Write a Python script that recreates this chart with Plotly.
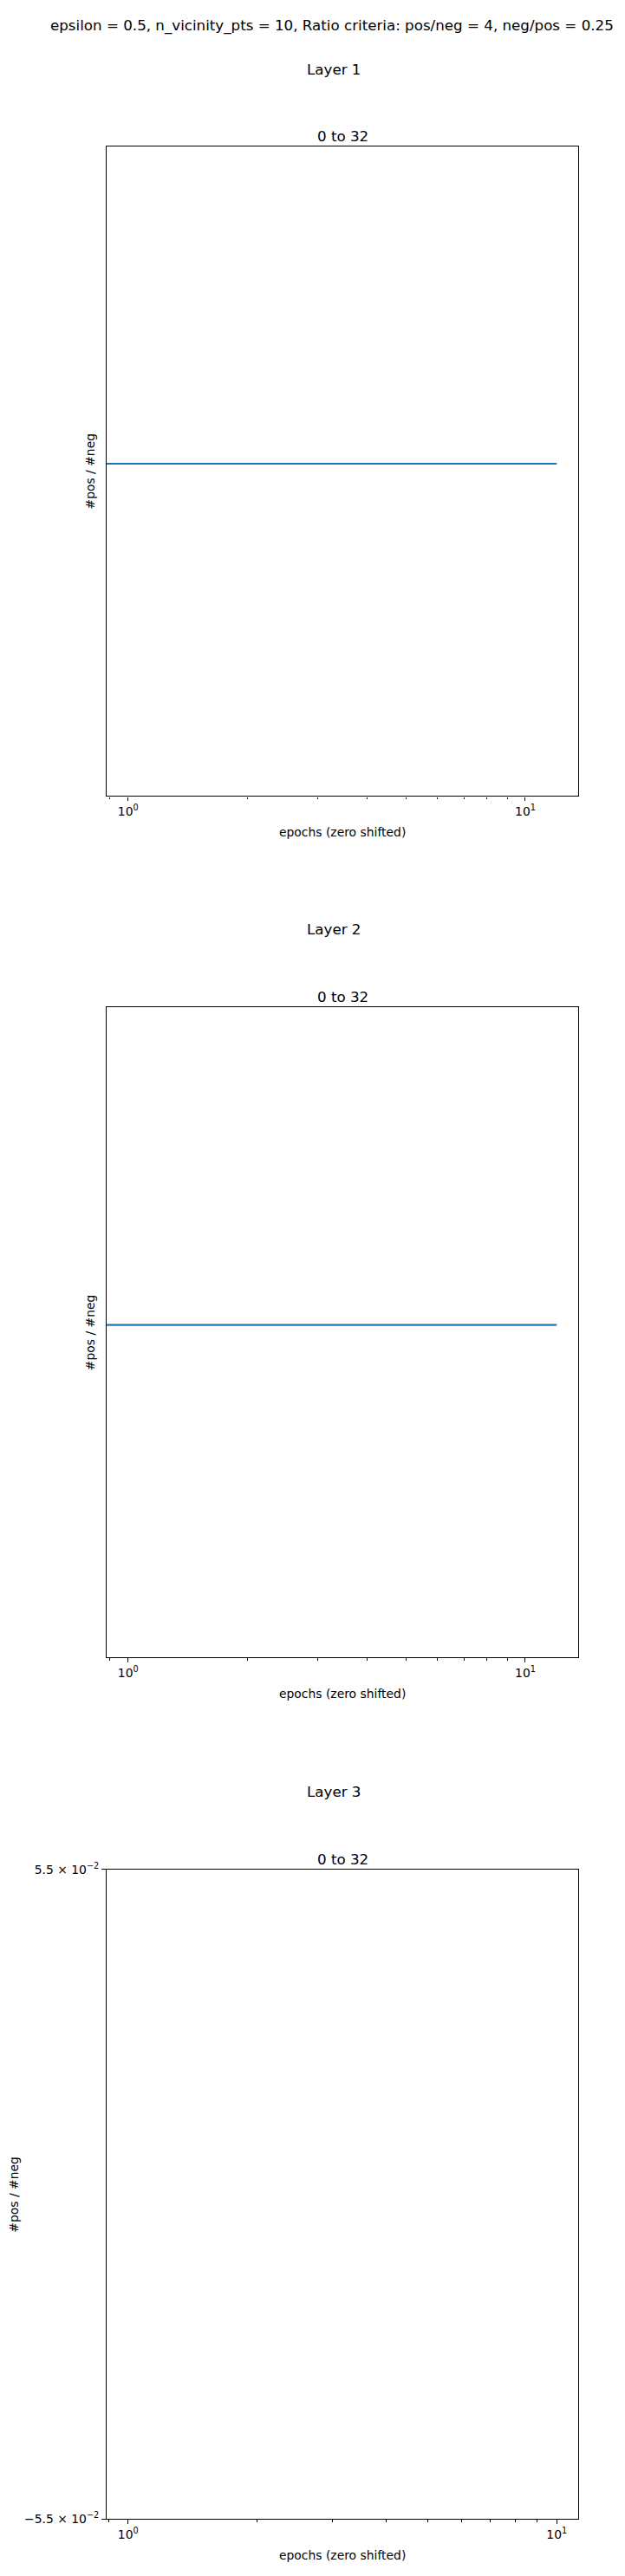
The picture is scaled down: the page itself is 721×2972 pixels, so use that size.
import math
import plotly.graph_objects as go

W, H = 721, 2972

suptitle = "epsilon = 0.5, n_vicinity_pts = 10, Ratio criteria: pos/neg = 4, neg/pos = 0.25"
layer_titles = ["Layer 1", "Layer 2", "Layer 3"]
panel_titles = ["0 to 32", "0 to 32", "0 to 32"]
x_label = "epochs (zero shifted)"
y_label = "#pos / #neg"

epochs_l1 = [0, 1, 2, 3, 4, 5, 6, 7, 8, 9, 10, 11, 12]
ratio_l1 = [0.25, 0.25, 0.25, 0.25, 0.25, 0.25, 0.25, 0.25, 0.25, 0.25, 0.25, 0.25, 0.25]
epochs_l2 = [0, 1, 2, 3, 4, 5, 6, 7, 8, 9, 10, 11, 12]
ratio_l2 = [0.25, 0.25, 0.25, 0.25, 0.25, 0.25, 0.25, 0.25, 0.25, 0.25, 0.25, 0.25, 0.25]
epochs_l3 = [0, 1, 2, 3, 4, 5, 6, 7, 8, 9, 10]
ratio_l3 = [None, None, None, None, None, None, None, None, None, None, None]

x_major_ticks = [1, 10]
x_major_labels = ["10<sup>0</sup>", "10<sup>1</sup>"]
x_minor_ticks = [0.9, 2, 3, 4, 5, 6, 7, 8, 9, 20]
y3_ticks = [-0.055, 0.055]
y3_labels = ["\u22125.5 \u00d7 10<sup>\u22122</sup>", "5.5 \u00d7 10<sup>\u22122</sup>"]

FONT = "DejaVu Sans"
BLUE = "#1f77b4"
TITLE_SIZE = 16.7
LABEL_SIZE = 13.9

# panel boxes in page pixels: (left, right, top, bottom)
boxes = [(123, 667, 159.5, 914), (123, 667, 1159, 1914), (123, 667, 2160, 2914)]
layer_title_y = [70, 1068, 2070]
panel_title_y = [148, 1147, 2148]
ylabel_x = [104, 104, 16]


def pxx(X):
    return X / W


def pxy(Y):
    return 1 - Y / H


def log_limits(vals):
    v = [a for a in vals if a is not None and a > 0]
    lo, hi = math.log10(min(v)), math.log10(max(v))
    if lo == hi:
        lo, hi = math.log10(0.95 * min(v)), math.log10(1.05 * max(v))
    m = 0.05 * (hi - lo)
    return [lo - m, hi + m]


def lin_limits(vals):
    v = [a for a in vals if a is not None]
    if not v:
        lo, hi = -0.05, 0.05
    else:
        lo, hi = min(v), max(v)
    m = 0.05 * (hi - lo)
    return [lo - m, hi + m]


fig = go.Figure()
series = [(epochs_l1, ratio_l1, "log"), (epochs_l2, ratio_l2, "log"), (epochs_l3, ratio_l3, "linear")]

annotations = []
for i, (ep, ra, ytype) in enumerate(series):
    n = i + 1
    xa = "x" if n == 1 else f"x{n}"
    ya = "y" if n == 1 else f"y{n}"
    xr = log_limits(ep)
    x_plot = [e if e > 0 else 10 ** xr[0] for e in ep]
    fig.add_trace(go.Scatter(x=x_plot, y=ra, mode="lines", xaxis=xa, yaxis=ya,
                             line=dict(color=BLUE, width=2.1), showlegend=False,
                             connectgaps=False, hoverinfo="skip"))
    l, r, t, b = boxes[i]
    xdom = [pxx(l), pxx(r)]
    ydom = [pxy(b), pxy(t)]
    xkey = "xaxis" if n == 1 else f"xaxis{n}"
    ykey = "yaxis" if n == 1 else f"yaxis{n}"
    fig.layout[xkey] = dict(
        domain=xdom, anchor=ya, type="log", range=xr,
        showline=True, linecolor="black", linewidth=1.1, mirror=True,
        showgrid=False, zeroline=False,
        tickmode="array", tickvals=x_major_ticks, ticktext=x_major_labels,
        ticks="outside", ticklen=4.9, tickwidth=1.1, tickcolor="black",
        tickfont=dict(family=FONT, size=LABEL_SIZE, color="black"),
        minor=dict(tickmode="array", tickvals=x_minor_ticks, ticks="outside",
                   ticklen=2.8, tickwidth=0.8, tickcolor="black", showgrid=False),
    )
    if ytype == "log":
        yr = log_limits(ra)
        fig.layout[ykey] = dict(
            domain=ydom, anchor=xa, type="log", range=yr,
            showline=True, linecolor="black", linewidth=1.1, mirror=True,
            showgrid=False, zeroline=False, showticklabels=False, ticks="",
        )
    else:
        yr = lin_limits(ra)
        fig.layout[ykey] = dict(
            domain=ydom, anchor=xa, type="linear", range=yr,
            showline=True, linecolor="black", linewidth=1.1, mirror=True,
            showgrid=False, zeroline=False,
            tickmode="array", tickvals=y3_ticks, ticktext=y3_labels,
            ticks="outside", ticklen=4.9, tickwidth=1.1, tickcolor="black",
            tickfont=dict(family=FONT, size=LABEL_SIZE, color="black"),
        )
    cx = (l + r) / 2
    annotations.append(dict(text=layer_titles[i], x=pxx(385), y=pxy(layer_title_y[i]),
                            xref="paper", yref="paper", showarrow=False,
                            xanchor="center", yanchor="middle",
                            font=dict(family=FONT, size=TITLE_SIZE, color="black")))
    annotations.append(dict(text=panel_titles[i], x=pxx(cx), y=pxy(panel_title_y[i]),
                            xref="paper", yref="paper", showarrow=False,
                            xanchor="center", yanchor="middle",
                            font=dict(family=FONT, size=TITLE_SIZE, color="black")))
    annotations.append(dict(text=x_label, x=pxx(cx), y=pxy(b + 42),
                            xref="paper", yref="paper", showarrow=False,
                            xanchor="center", yanchor="middle",
                            font=dict(family=FONT, size=LABEL_SIZE, color="black")))
    annotations.append(dict(text=y_label, x=pxx(ylabel_x[i]), y=pxy((t + b) / 2),
                            xref="paper", yref="paper", showarrow=False, textangle=-90,
                            xanchor="center", yanchor="middle",
                            font=dict(family=FONT, size=LABEL_SIZE, color="black")))

annotations.append(dict(text=suptitle, x=pxx(383), y=pxy(20), xref="paper", yref="paper",
                        showarrow=False, xanchor="center", yanchor="middle",
                        font=dict(family=FONT, size=TITLE_SIZE, color="black")))

fig.update_layout(
    width=W, height=H, margin=dict(l=0, r=0, t=0, b=0),
    paper_bgcolor="white", plot_bgcolor="white",
    annotations=annotations, showlegend=False, hovermode=False,
    font=dict(family=FONT, color="black"),
)

fig.write_html(
    "out.html",
    config={"displayModeBar": False},
    post_script="document.body.style.margin='0';document.body.style.overflow='hidden';",
)
